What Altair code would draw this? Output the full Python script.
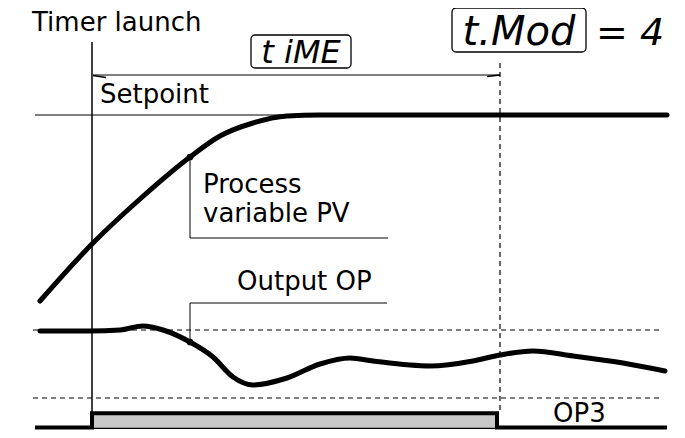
import altair as alt
import pandas as pd

# ---------------- data (time units across, level units downward) ----------------
# Process variable PV
pv_t = [40, 92, 140, 190, 220, 253, 287, 320, 450, 667]
pv_v = [301, 244, 199, 157, 136, 123, 116, 115, 115, 115]

# Output OP
op_t = [40, 90, 120, 143, 163, 190, 213, 233, 253, 287, 320, 350, 373, 430, 473, 500, 533, 573, 623, 665]
op_v = [331, 331, 330, 326, 330, 342, 357, 377, 385, 378, 364, 358, 361, 366, 361, 355, 351, 356, 363, 371]

# OP3 state (step)
op3_t = [35, 92, 92, 497, 497, 667]
op3_v = [435, 435, 417, 417, 435, 435]
op3_on = [92, 497]          # on period
op3_band = [417, 436]       # band top / bottom

# reference levels
setpoint_level = 115
op_limits = [330, 398]
timer_start = 92
timer_end = 500

# thin annotation polylines
thin_seg = ["sp", "sp", "launch", "launch", "span", "span", "ahl", "ahl", "ahr", "ahr",
            "pvl", "pvl", "pvl", "opl", "opl", "opl"]
thin_t = [35, 668, 92, 92, 93, 500, 93, 106, 500, 487, 190, 190, 388, 190, 190, 387]
thin_v = [115, 115, 42, 417, 75, 75, 75.5, 77.5, 75, 76.5, 158, 238, 238, 342, 303, 303]
thin_w = [1, 1, 1.5, 1.5, 1, 1, 1.5, 1.5, 1.5, 1.5, 1, 1, 1, 1, 1, 1]

dots_t = [190, 190]
dots_v = [157, 342]

labels = ["Timer launch", "Setpoint", "Process", "variable PV", "Output OP", "OP3"]
labels_t = [32, 100, 203, 203, 237, 553]
labels_v = [31, 103, 193, 222, 290, 428]

lcd_text = ["t iME", "t.Mod"]
lcd_t = [301, 519]
lcd_v = [63, 45]
lcd_size = [32, 40]
lcd_box_x = [251, 452]
lcd_box_x2 = [351, 586]
lcd_box_y = [35, 8]
lcd_box_y2 = [68, 52]

eq_text = ["= 4"]
eq_t = [596]
eq_v = [45]

# ---------------- scales ----------------
XS = alt.Scale(domain=[8, 677], nice=False, zero=False)
YS = alt.Scale(domain=[8, 398, 438], range=[0, 390, 422], nice=False, zero=False)


def X(f="x"):
    return alt.X(f"{f}:Q", scale=XS, axis=None)


def Y(f="y"):
    return alt.Y(f"{f}:Q", scale=YS, axis=None)


def order_df(t, v):
    return pd.DataFrame({"x": t, "y": v, "o": list(range(len(t)))})


band = alt.Chart(pd.DataFrame({"x": [op3_on[0]], "x2": [op3_on[1]],
                               "y": [op3_band[0]], "y2": [op3_band[1]]})).mark_rect(
    fill="#c8c8c8", stroke="black", strokeWidth=1.2
).encode(x=X(), x2="x2", y=Y(), y2="y2")

dash_h = alt.Chart(pd.DataFrame({"y": op_limits, "x": [33, 33], "x2": [663, 663]})).mark_rule(
    color="black", strokeWidth=1, strokeDash=[5, 4]
).encode(x=X(), x2="x2", y=Y())

dash_v = alt.Chart(pd.DataFrame({"x": [timer_end], "y": [63], "y2": [417]})).mark_rule(
    color="black", strokeWidth=1.2, strokeDash=[5, 4]
).encode(x=X(), y=Y(), y2="y2")

thin_df = pd.DataFrame({"seg": thin_seg, "x": thin_t, "y": thin_v, "w": thin_w,
                        "o": list(range(len(thin_t)))})
thin = alt.Chart(thin_df).mark_line(color="black", strokeCap="butt").encode(
    x=X(), y=Y(), detail="seg:N", order="o:Q",
    strokeWidth=alt.StrokeWidth("w:Q", scale=None, legend=None),
)

step = alt.Chart(order_df(op3_t, op3_v)).mark_line(
    color="black", strokeWidth=4, strokeJoin="miter", strokeCap="butt"
).encode(x=X(), y=Y(), order="o:Q")

pv = alt.Chart(order_df(pv_t, pv_v)).mark_line(
    color="black", strokeWidth=5, interpolate="monotone", strokeCap="round"
).encode(x=X(), y=Y(), order="o:Q")

op = alt.Chart(order_df(op_t, op_v)).mark_line(
    color="black", strokeWidth=5, interpolate="monotone", strokeCap="round"
).encode(x=X(), y=Y(), order="o:Q")

dots = alt.Chart(pd.DataFrame({"x": dots_t, "y": dots_v})).mark_circle(
    color="black", size=45, opacity=1
).encode(x=X(), y=Y())

texts = alt.Chart(pd.DataFrame({"x": labels_t, "y": labels_v, "t": labels})).mark_text(
    align="left", baseline="alphabetic", font="DejaVu Sans", fontSize=26, color="black"
).encode(x=X(), y=Y(), text="t:N")

boxes = alt.Chart(pd.DataFrame({"x": lcd_box_x, "x2": lcd_box_x2,
                                "y": lcd_box_y, "y2": lcd_box_y2})).mark_rect(
    fill="white", fillOpacity=0, stroke="black", strokeWidth=1.3, cornerRadius=4
).encode(x=X(), x2="x2", y=Y(), y2="y2")

lcd = alt.Chart(pd.DataFrame({"x": lcd_t, "y": lcd_v, "t": lcd_text, "s": lcd_size})).mark_text(
    align="center", baseline="alphabetic", font="DejaVu Sans", fontStyle="italic",
    fontWeight=300, color="black"
).encode(x=X(), y=Y(), text="t:N",
         size=alt.Size("s:Q", scale=None, legend=None))

eq = alt.Chart(pd.DataFrame({"x": eq_t, "y": eq_v, "t": eq_text})).mark_text(
    align="left", baseline="alphabetic", font="DejaVu Sans", fontStyle="italic",
    fontWeight=300, fontSize=38, color="black"
).encode(x=X(), y=Y(), text="t:N")

chart = alt.layer(band, dash_h, dash_v, thin, step, pv, op, dots, texts, boxes, lcd, eq).properties(
    width=669, height=422, padding=0, autosize="none"
).configure_view(stroke=None)

chart.save("out.html", embed_options={"renderer": "svg", "actions": False})
